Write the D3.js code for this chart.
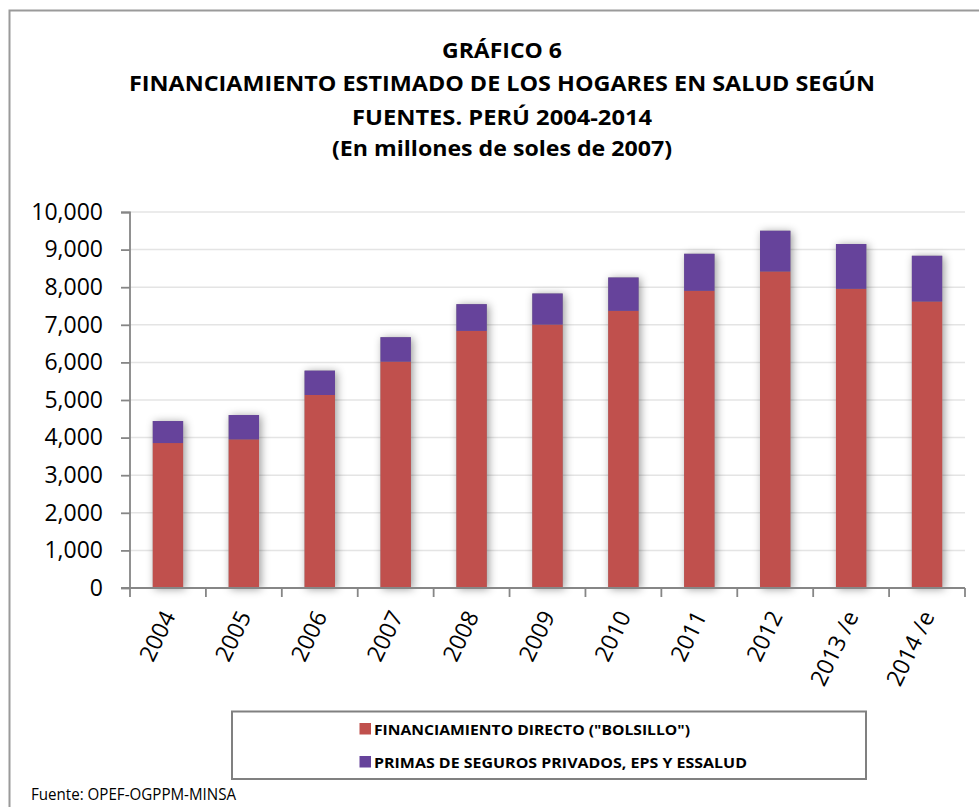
<!DOCTYPE html>
<html>
<head>
<meta charset="utf-8">
<script src="https://cdn.jsdelivr.net/npm/d3@7"></script>
<style>
  html, body { margin: 0; padding: 0; background: #fff; }
  svg { display: block; }
  text { font-family: "Open Sans", "DejaVu Sans", sans-serif; fill: #000; }
</style>
</head>
<body>
<svg id="chart" width="979" height="807"></svg>
<script>
// ---- Data (millones de soles de 2007) ----
const years = ["2004","2005","2006","2007","2008","2009","2010","2011","2012","2013 /e","2014 /e"];
const bolsillo = [3855, 3953, 5133, 6020, 6838, 7006, 7371, 7904, 8418, 7957, 7619];
const primas   = [585, 647, 648, 650, 711, 826, 887, 985, 1084, 1191, 1217];
const yTicks = [0,1000,2000,3000,4000,5000,6000,7000,8000,9000,10000];
const seriesNames = ["FINANCIAMIENTO DIRECTO (\"BOLSILLO\")", "PRIMAS DE SEGUROS PRIVADOS, EPS Y ESSALUD"];
const titleLines = ["GRÁFICO 6",
  "FINANCIAMIENTO ESTIMADO DE LOS HOGARES EN SALUD SEGÚN",
  "FUENTES. PERÚ 2004-2014",
  "(En millones de soles de 2007)"];
const sourceText = "Fuente: OPEF-OGPPM-MINSA";

const colors = ["#C0504D", "#66439B"];

const svg = d3.select("#chart");

// defs: shadow
const defs = svg.append("defs");
const f = defs.append("filter").attr("id","shadow").attr("x","-50%").attr("y","-10%").attr("width","200%").attr("height","120%");
f.append("feDropShadow").attr("dx",2).attr("dy",1).attr("stdDeviation",4)
  .attr("flood-color","#000").attr("flood-opacity",0.4);

// outer frame
svg.append("path")
  .attr("d","M9.5,830 L9.5,10.5 L990,10.5")
  .attr("fill","none").attr("stroke","#9a9a9a").attr("stroke-width",2);

// title
const titleW = [120, 746, 300, 340];
const titleY = [58, 91, 125, 156];
svg.append("g").selectAll("text").data(titleLines).join("text")
  .attr("x", 502).attr("y", (d,i)=>titleY[i])
  .attr("text-anchor","middle")
  .attr("font-size", 22).attr("font-weight", 700)
  .attr("textLength",(d,i)=>titleW[i]).attr("lengthAdjust","spacingAndGlyphs")
  .text(d=>d);

// scales
const x = d3.scaleBand().domain(years).range([130, 965]).paddingInner(0.6).paddingOuter(0.3);
const y = d3.scaleLinear().domain([0, 10000]).range([588, 212]);

// gridlines
svg.append("g").selectAll("line").data(yTicks.slice(1)).join("line")
  .attr("x1",130).attr("x2",965)
  .attr("y1",d=>y(d)).attr("y2",d=>y(d))
  .attr("stroke","#e4e4e4").attr("stroke-width",1.5);

// stacked bars
const table = years.map((yr,i)=>({year: yr, a: bolsillo[i], b: primas[i]}));
const stack = d3.stack().keys(["a","b"])(table);
const bw = 30.4;
const gBars = svg.append("g");
// shadow layer
gBars.append("g").attr("filter","url(#shadow)").selectAll("rect").data(table).join("rect")
  .attr("x", d=>x(d.year)+x.bandwidth()/2-bw/2)
  .attr("width", bw)
  .attr("y", d=>y(d.a+d.b))
  .attr("height", d=>y(0)-y(d.a+d.b))
  .attr("fill","#888");
stack.forEach((s,si)=>{
  gBars.append("g").selectAll("rect").data(s).join("rect")
    .attr("x", d=>x(d.data.year)+x.bandwidth()/2-bw/2)
    .attr("width", bw)
    .attr("y", d=>y(d[1]))
    .attr("height", d=>y(d[0])-y(d[1]))
    .attr("fill", colors[si]);
});

// y axis
const yAxis = d3.axisLeft(y).tickValues(yTicks).tickSize(9).tickPadding(18)
  .tickFormat(d3.format(","));
const gy = svg.append("g").attr("transform","translate(130,0)").call(yAxis);
gy.select(".domain").attr("stroke","#868686").attr("stroke-width",1.8).attr("d","M-9,212.5H0V588");
gy.selectAll(".tick line").attr("stroke","#868686").attr("stroke-width",1.8);
gy.selectAll(".tick text").attr("font-size",23).attr("fill","#000")
  .style("font-family","'Open Sans', sans-serif");

// x axis
const bounds = d3.range(years.length+1).map(i=>130 + i*(965-130)/years.length);
const gx = svg.append("g");
gx.append("line").attr("x1",121).attr("x2",965).attr("y1",588).attr("y2",588)
  .attr("stroke","#868686").attr("stroke-width",1.8);
gx.selectAll("line.tk").data(bounds).join("line").attr("class","tk")
  .attr("x1",d=>d).attr("x2",d=>d).attr("y1",588).attr("y2",597)
  .attr("stroke","#868686").attr("stroke-width",1.8);
gx.selectAll("text").data(years).join("text")
  .attr("text-anchor","end")
  .attr("font-size",23)
  .attr("transform", d=>`translate(${x(d)+x.bandwidth()/2+8},${616}) rotate(-64)`)
  .text(d=>d);

// legend
svg.append("rect").attr("x",232).attr("y",711.5).attr("width",634).attr("height",67.5)
  .attr("fill","#fff").attr("stroke","#808080").attr("stroke-width",2);
const legW = [316, 373];
const legY = [729, 762];
const lg = svg.append("g");
seriesNames.forEach((n,i)=>{
  lg.append("rect").attr("x",359.5).attr("y",legY[i]-6).attr("width",11.5).attr("height",11.5).attr("fill",colors[i]);
  lg.append("text").attr("x",374).attr("y",legY[i]+5.5)
    .attr("font-size",14.5).attr("font-weight",700)
    .attr("textLength",legW[i]).attr("lengthAdjust","spacingAndGlyphs")
    .text(n);
});

// source
svg.append("text").attr("x",31).attr("y",800).attr("font-size",16)
  .attr("textLength",205).attr("lengthAdjust","spacingAndGlyphs")
  .text(sourceText);
</script>
</body>
</html>
